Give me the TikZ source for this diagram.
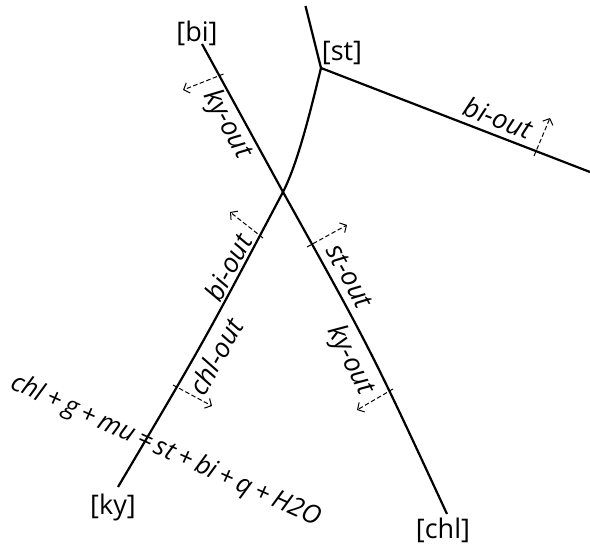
\documentclass[tikz,border=0pt]{standalone}
\usepackage{fontspec}
\setmainfont{Open Sans}
\usetikzlibrary{arrows.meta,calc}

\begin{document}
\begin{tikzpicture}[x=1pt, y=-1pt,
  every node/.style={font=\fontsize{27}{30}\selectfont},
  reac/.style={line width=2.2pt, line join=round},
  outlbl/.style={font=\fontsize{27}{30}\selectfont\itshape, sloped, inner sep=2pt},
  sidearrow/.style={line width=1pt, dash pattern=on 4.5pt off 2.5pt,
    -{Straight Barb[length=5pt,width=11pt,line width=1pt]}}]
  \useasboundingbox (0,0) rectangle (590,546);
  % invariant points and the free ends of the reactions
  \coordinate (ip) at (283,192);
  \coordinate (stp) at (321,68);
  \coordinate (topEnd) at (305.5,6);
  \coordinate (rgtEnd) at (590,172);
  \coordinate (biEnd) at (202,44);
  \coordinate (chlEnd) at (447,514);
  \coordinate (kyEnd) at (118,487);
  % reaction lines with their labels
  \draw[reac] (biEnd) -- (ip)
      node[outlbl, pos=0.49, below] (kyoutA) {ky-out}
    .. controls (371,350) .. (chlEnd)
      node[outlbl, pos=0.245, above=5pt] (stout) {st-out}
      node[outlbl, pos=0.5, below=5pt] (kyoutB) {ky-out};
  \draw[reac] (kyEnd) .. controls (204,341.5) .. (ip)
      node[outlbl, pos=0.775, above] (bioutA) {bi-out}
      node[outlbl, pos=0.47, below=5pt] (chlout) {chl-out}
    .. controls (299,161) and (313,100) .. (stp);
  \draw[reac] (topEnd) -- (stp) -- (rgtEnd)
      node[outlbl, pos=0.635, above=4pt] (bioutB) {bi-out};
  % end labels
  \node (biL) at (197,33) {[bi]};
  \node (stL) at (342,53) {[st]};
  \node (kyL) at (113,507) {[ky]};
  \node (chlL) at (443,530) {[chl]};
  % dashed side arrows
  \coordinate (dA0) at (223.5,74);  \coordinate (dA1) at (183,90);
  \coordinate (dB0) at (534,156);   \coordinate (dB1) at (550,118);
  \coordinate (dC0) at (263,238);   \coordinate (dC1) at (230,212);
  \coordinate (dD0) at (173,385);   \coordinate (dD1) at (212,406);
  \coordinate (dE0) at (307,247);   \coordinate (dE1) at (347,225);
  \coordinate (dF0) at (393,389);   \coordinate (dF1) at (357,410);
  \draw[sidearrow] (dA0) -- (dA1);
  \draw[sidearrow] (dB0) -- (dB1);
  \draw[sidearrow] (dC0) -- (dC1);
  \draw[sidearrow] (dD0) -- (dD1);
  \draw[sidearrow] (dE0) -- (dE1);
  \draw[sidearrow] (dF0) -- (dF1);
  % the reaction itself, written across the [ky] line
  \node[font=\fontsize{26}{30}\selectfont\itshape, rotate=-24.2] (rxn) at (166,451)
    {\spaceskip=0.18em\relax chl + g + mu = st + bi + q + H2O};
\end{tikzpicture}
\end{document}
